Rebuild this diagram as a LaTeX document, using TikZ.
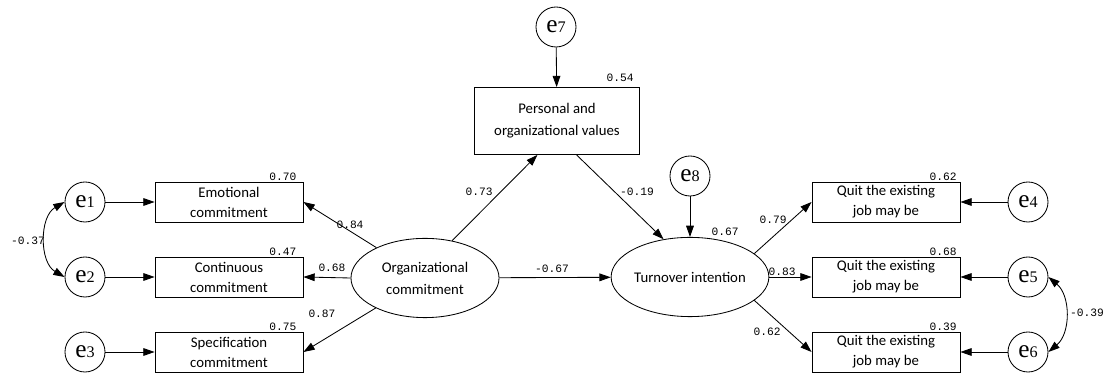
\documentclass[tikz,border=0pt]{standalone}
\usepackage{fontspec}
\usepackage{tikz}
\usetikzlibrary{arrows.meta,shapes,positioning}
\newfontfamily\boxfont{Carlito}
\newfontfamily\numfont{Liberation Mono}
\newfontfamily\errfont{Liberation Serif}
\newcommand{\boxw}{3.7cm}
\newcommand{\boxh}{1cm}
\newcommand{\errlab}[1]{e{\fontsize{11.5}{11.5}\selectfont #1}}

\begin{document}
\begin{tikzpicture}[x=0.025cm,y=-0.025cm]
            \tikzset{
                err/.style = {circle, draw, minimum size=1cm, inner sep=0pt, line width=0.6pt,
                              font=\errfont\fontsize{18}{18}\selectfont},
                obs/.style = {rectangle, draw, minimum width=\boxw, minimum height=\boxh, align=center,
                              inner sep=1pt, line width=0.6pt, font=\boxfont\fontsize{10.5}{14.2}\selectfont},
                lat/.style = {ellipse, draw, minimum width=3.7cm, minimum height=1.98cm, align=center,
                              inner sep=0pt, line width=0.6pt, font=\boxfont\fontsize{10.5}{15.6}\selectfont},
                coef/.style = {inner sep=0pt, font=\numfont\fontsize{8}{8}\selectfont},
                arr/.style = {-{Triangle[length=8pt,width=5.5pt]}, line width=0.6pt},
                cov/.style = {{Triangle[length=8pt,width=5.5pt]}-{Triangle[length=8pt,width=5.5pt]}, line width=0.6pt}
            }
            \useasboundingbox (0,0) rectangle (1114,379);
            %\draw[help lines] (0,0) grid[step=50] (1114,379);

            % left side
            \node[err] (e1) at (85,202) {\errlab{1}};
            \node[err] (e2) at (85,277) {\errlab{2}};
            \node[err] (e3) at (85,352) {\errlab{3}};
            \node[obs] (emo) at (229,202) {Emotional\\commitment};
            \node[obs] (con) at (229,277) {Continuous\\commitment};
            \node[obs] (spe) at (229,352) {Specification\\commitment};

            % middle
            \node[lat] (oc) at (425,278) {Organizational\\commitment};
            \node[lat] (ti) at (690,277) {Turnover intention};
            \node[obs, minimum width=4.125cm, minimum height=1.675cm, font=\boxfont\fontsize{10.5}{15.6}\selectfont]
                (pv) at (557,121) {Personal and\\organizational values};
            \node[err] (e7) at (556,27) {\errlab{7}};
            \node[err] (e8) at (690,176) {\errlab{8}};

            % right side
            \node[obs] (q1) at (886,202) {Quit the existing\\job may be};
            \node[obs] (q2) at (886,277) {Quit the existing\\job may be};
            \node[obs] (q3) at (886,352) {Quit the existing\\job may be};
            \node[err] (e4) at (1028,202) {\errlab{4}};
            \node[err] (e5) at (1028,277) {\errlab{5}};
            \node[err] (e6) at (1028,352) {\errlab{6}};

            % paths
            \draw[arr] (e1) -- (emo);
            \draw[arr] (e2) -- (con);
            \draw[arr] (e3) -- (spe);
            \draw[arr] (oc) -- (emo.east);
            \draw[arr] (oc.west) -- (con.east);
            \draw[arr] (oc) -- (spe.east);
            \draw[arr] (oc.54) -- (pv.-120);
            \draw[arr] (pv.-60) -- (ti.125);
            \draw[arr] (oc) -- (ti);
            \draw[arr] (e7) -- (pv);
            \draw[arr] (e8) -- (ti);
            \draw[arr] (ti.20) -- (q1.west);
            \draw[arr] (ti.east) -- (q2.west);
            \draw[arr] (ti.-20) -- (q3.west);
            \draw[arr] (e4) -- (q1);
            \draw[arr] (e5) -- (q2);
            \draw[arr] (e6) -- (q3);
            \draw[cov] (e1.west) to[bend right=60] (e2.west);
            \draw[cov] (e5.east) to[bend left=50] (e6.east);

            % estimates
            \node[coef] (r70) at (283,177) {0.70};
            \node[coef] (r47) at (283,252) {0.47};
            \node[coef] (r75) at (283,327) {0.75};
            \node[coef] (c37) at (28,241) {-0.37};
            \node[coef] (w84) at (350,225) {0.84};
            \node[coef] (w68) at (332,268) {0.68};
            \node[coef] (w87) at (322,314) {0.87};
            \node[coef] (w73) at (479,192) {0.73};
            \node[coef] (r54) at (620,78) {0.54};
            \node[coef] (w19) at (637,192) {-0.19};
            \node[coef] (w67) at (552,269) {-0.67};
            \node[coef] (r67) at (725,232) {0.67};
            \node[coef] (w79) at (773,220) {0.79};
            \node[coef] (w83) at (782,272) {0.83};
            \node[coef] (w62) at (767,332) {0.62};
            \node[coef] (r62) at (943,177) {0.62};
            \node[coef] (r68) at (943,252) {0.68};
            \node[coef] (r39) at (943,327) {0.39};
            \node[coef] (c39) at (1087,313) {-0.39};
\end{tikzpicture}
\end{document}
